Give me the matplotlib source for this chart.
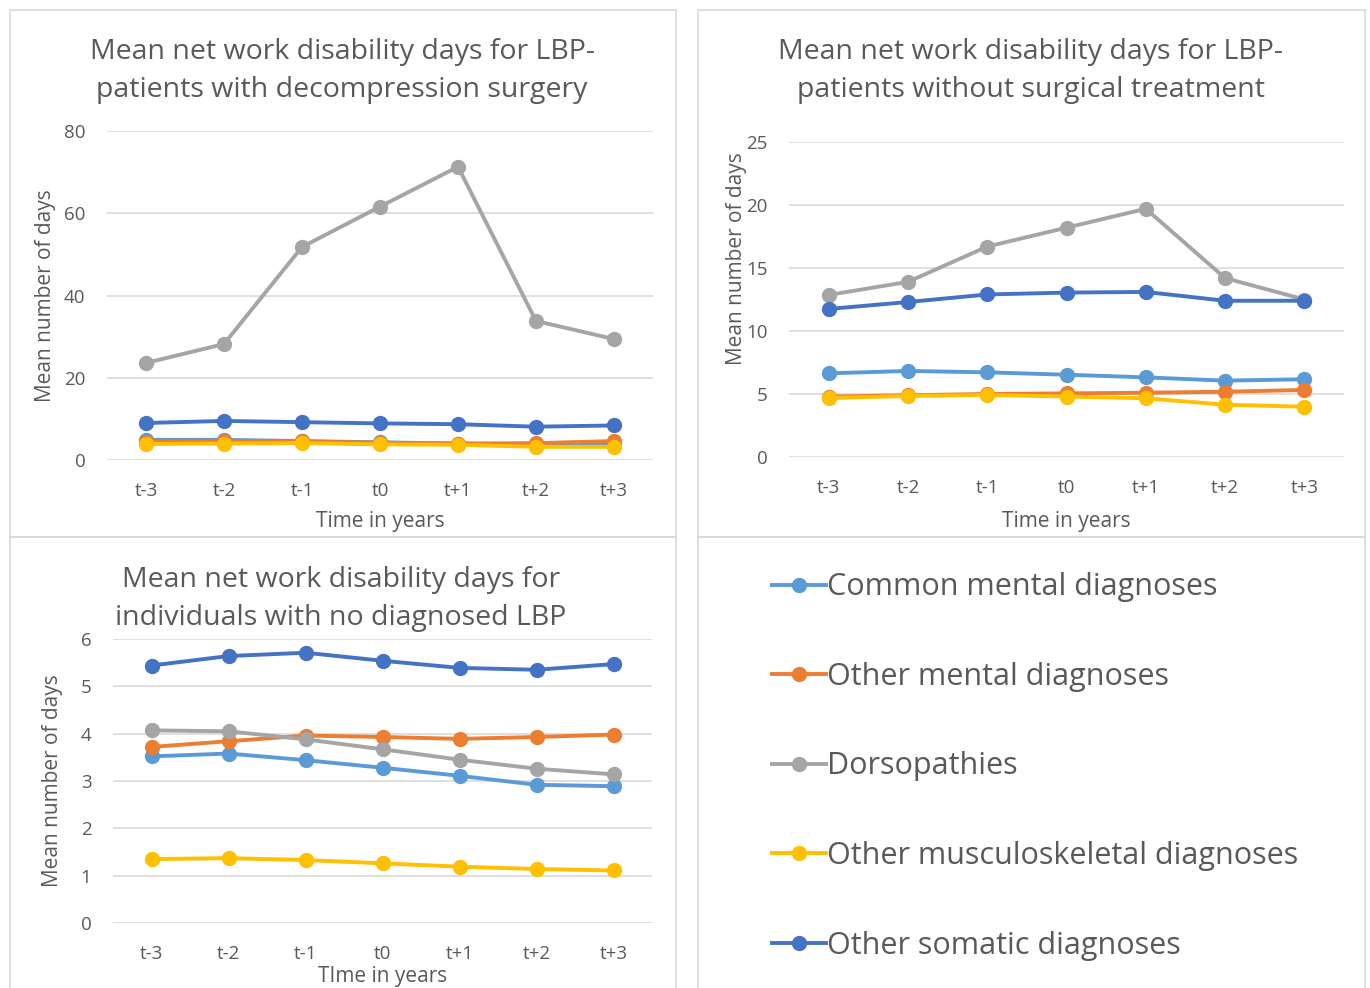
import matplotlib
matplotlib.use('Agg')
import matplotlib.pyplot as plt
from matplotlib.patches import Rectangle
from matplotlib.lines import Line2D

# categories and series
periods = ['t-3', 't-2', 't-1', 't0', 't+1', 't+2', 't+3']
series_names = ['Common mental diagnoses', 'Other mental diagnoses', 'Dorsopathies',
                'Other musculoskeletal diagnoses', 'Other somatic diagnoses']
colors = ['#5B9BD5', '#ED7D31', '#A5A5A5', '#FFC000', '#4472C4']

# panel 1: LBP patients with decompression surgery
surg_common = [4.9, 4.9, 4.6, 4.3, 4.0, 3.7, 3.8]
surg_other_mental = [4.4, 4.5, 4.5, 4.2, 4.0, 4.1, 4.6]
surg_dorso = [23.6, 28.2, 51.8, 61.6, 71.3, 33.8, 29.4]
surg_musc = [3.9, 4.0, 4.1, 3.8, 3.7, 3.2, 3.2]
surg_somatic = [9.0, 9.5, 9.2, 8.9, 8.7, 8.1, 8.4]

# panel 2: LBP patients without surgical treatment
nosurg_common = [6.64, 6.83, 6.72, 6.53, 6.32, 6.06, 6.17]
nosurg_other_mental = [4.79, 4.90, 5.00, 5.05, 5.10, 5.18, 5.32]
nosurg_dorso = [12.86, 13.9, 16.7, 18.2, 19.7, 14.2, 12.5]
nosurg_musc = [4.68, 4.84, 4.92, 4.80, 4.66, 4.15, 3.99]
nosurg_somatic = [11.75, 12.3, 12.9, 13.05, 13.1, 12.4, 12.4]

# panel 3: individuals with no diagnosed LBP
nolbp_common = [3.52, 3.58, 3.44, 3.28, 3.11, 2.92, 2.89]
nolbp_other_mental = [3.72, 3.84, 3.96, 3.93, 3.89, 3.93, 3.98]
nolbp_dorso = [4.07, 4.05, 3.88, 3.67, 3.45, 3.26, 3.14]
nolbp_musc = [1.35, 1.37, 1.33, 1.26, 1.19, 1.14, 1.11]
nolbp_somatic = [5.44, 5.64, 5.71, 5.54, 5.39, 5.35, 5.47]

W, H = 1370, 988
txt = '#595959'
font = 'Open Sans'
plt.rcParams['font.family'] = [font, 'DejaVu Sans']

fig = plt.figure(figsize=(W / 100, H / 100), dpi=100)


def box(x0, y0, x1, y1):
    # pixel coords (top-left origin) -> figure fraction
    return [x0 / W, 1 - y1 / H, (x1 - x0) / W, (y1 - y0) / H]


# panel borders
for x0, y0, x1, y1 in [(10, 10, 676, 537), (698, 10, 1365, 537),
                       (10, 537, 676, 1000), (698, 537, 1365, 1000)]:
    fig.patches.append(Rectangle((x0 / W, 1 - y1 / H), (x1 - x0) / W, (y1 - y0) / H,
                                 transform=fig.transFigure, fill=False,
                                 edgecolor='#D9D9D9', linewidth=1.2))


def panel(rect, data, ymax, step, title, tcx, tcy, xlabel, xlpad, ylab_x, ylab_y):
    ax = fig.add_axes(box(*rect))
    x = range(len(periods))
    for vals, c in zip(data, colors):
        ax.plot(x, vals, color=c, linewidth=2.8, marker='o', markersize=10,
                solid_capstyle='round', zorder=3)
    ax.set_xlim(-0.5, len(periods) - 0.5)
    ax.set_ylim(0, ymax)
    ax.set_yticks(range(0, ymax + 1, step))
    ax.set_xticks(list(x))
    ax.set_xticklabels(periods)
    ax.tick_params(length=0, labelsize=13.5, labelcolor=txt)
    ax.tick_params(axis='x', pad=16)
    ax.tick_params(axis='y', pad=15.5)
    ax.grid(axis='y', color='#D9D9D9', linewidth=1.2)
    ax.set_axisbelow(True)
    for s in ax.spines.values():
        s.set_visible(False)
    ax.set_xlabel(xlabel, fontsize=15, color=txt, labelpad=xlpad)
    ax.set_ylabel('Mean number of days', fontsize=15, color=txt)
    ax.yaxis.set_label_coords(ylab_x, ylab_y)
    fig.text(tcx / W, 1 - tcy / H, title, ha='center', va='center', fontsize=20.5,
             color=txt, linespacing=1.5)
    return ax


panel((107, 131, 653, 460),
      [surg_common, surg_other_mental, surg_dorso, surg_musc, surg_somatic],
      80, 20, 'Mean net work disability days for LBP-\npatients with decompression surgery',
      342, 71, 'Time in years', 7.5, -0.094, 0.5)

ax2 = panel((789, 142, 1344, 457),
            [nosurg_common, nosurg_other_mental, nosurg_dorso, nosurg_musc, nosurg_somatic],
            25, 5, 'Mean net work disability days for LBP-\npatients without surgical treatment',
            1031, 71, 'Time in years', 9.8, -0.075, 0.63)

ax3 = panel((113, 639, 652, 923),
            [nolbp_common, nolbp_other_mental, nolbp_dorso, nolbp_musc, nolbp_somatic],
            6, 1, 'Mean net work disability days for\nindividuals with no diagnosed LBP',
            341, 599, 'TIme in years', 2.0, -0.092, 0.5)

# legend in the empty panel
handles = [Line2D([], [], color=c, linewidth=2.8, marker='o', markersize=10)
           for c in colors]
fig.legend(handles, series_names, loc='upper left',
           bbox_to_anchor=(760 / W, 1 - 560 / H), frameon=False, fontsize=22,
           labelcolor=txt, handlelength=1.75, handletextpad=0.05, labelspacing=1.95,
           borderaxespad=0)

fig.savefig('out.png', dpi=100)
